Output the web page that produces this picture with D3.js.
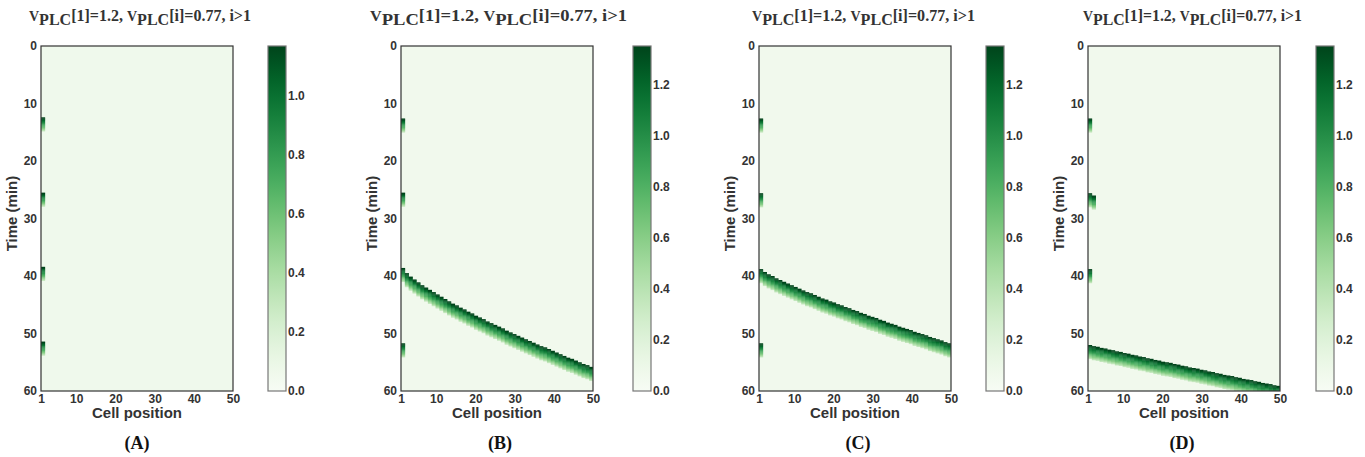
<!DOCTYPE html>
<html>
<head>
<meta charset="utf-8">
<script src="https://cdn.jsdelivr.net/npm/d3@7"></script>
<style>
  html, body { margin: 0; padding: 0; background: #fff; }
  svg { display: block; }
  .tick text { font-family: "Liberation Sans", Arial, sans-serif; font-weight: bold; font-size: 12px; fill: #333; }
</style>
</head>
<body>
<svg id="chart" width="1365" height="457"></svg>
<script>
// ---- data -------------------------------------------------------------
const panelLabels = ["(A)", "(B)", "(C)", "(D)"];
const timeTicks = [0, 10, 20, 30, 40, 50, 60];
const cellTicks = [1, 10, 20, 30, 40, 50];
const colorbarTicks = [0, 0.2, 0.4, 0.6, 0.8, 1.0, 1.2];
const colorMax = [1.17, 1.35, 1.35, 1.35];
const restLevel = 0.06;
const nCells = 50;

// Ca2+ transient shape after onset, sampled every 0.2 min (fraction of peak)
const profileStep = 0.2;
const spikeProfile = [1.0, 0.95, 0.88, 0.82, 0.76, 0.70, 0.64, 0.58, 0.51, 0.44, 0.36, 0.27];

// isolated oscillations in cell 1 (onset, min)
const cell1SpikesA = [12.4, 25.5, 38.4, 51.4];
const cell1SpikesB = [12.6, 25.5, 51.7];
const cell1SpikesC = [12.6, 25.6, 51.7];
const cell1SpikesD = [12.6, 25.6, 38.8];
const cell2SpikesD = [26.0];

// onset of the propagating wave in cells 1..50 (min)
const waveOnsetB = [38.6,39.5,40.1,40.6,41.1,41.6,42.0,42.4,42.8,43.2,43.6,44.0,44.4,44.8,45.1,45.5,45.8,46.2,46.5,46.9,47.2,47.5,47.9,48.2,48.5,48.8,49.1,49.5,49.8,50.1,50.4,50.7,51.0,51.3,51.6,51.9,52.2,52.4,52.7,53.0,53.3,53.6,53.9,54.2,54.4,54.7,55.0,55.3,55.5,55.8];
const waveOnsetC = [38.8,39.3,39.7,40.0,40.4,40.7,41.0,41.3,41.6,41.9,42.2,42.5,42.8,43.0,43.3,43.6,43.9,44.1,44.4,44.6,44.9,45.1,45.4,45.6,45.9,46.1,46.4,46.6,46.9,47.1,47.3,47.6,47.8,48.1,48.3,48.5,48.8,49.0,49.2,49.4,49.7,49.9,50.1,50.3,50.6,50.8,51.0,51.2,51.5,51.7];
const waveOnsetD = [52.0,52.2,52.3,52.5,52.6,52.8,52.9,53.1,53.2,53.4,53.5,53.7,53.8,54.0,54.1,54.3,54.4,54.6,54.7,54.9,55.0,55.1,55.3,55.4,55.6,55.7,55.9,56.0,56.1,56.3,56.4,56.6,56.7,56.9,57.0,57.2,57.3,57.4,57.6,57.7,57.9,58.0,58.1,58.3,58.4,58.6,58.7,58.8,59.0,59.1];

// ---- layout -----------------------------------------------------------
const plotTop = 46, plotH = 345, plotW = 192;
const plotLeft = [41, 401, 759, 1088];
const barLeft = [268, 633, 986, 1316];
const barW = 18;
const titleX = [29, 370, 752, 1083];
const titleW = [222, 257, 223, 219];
const labelX = [137, 500, 858, 1182];

function eventsFor(p) {
  const ev = [];
  const add = (cell, list) => list.forEach(t => ev.push({ cell, onset: t }));
  if (p === 0) add(1, cell1SpikesA);
  if (p === 1) { add(1, cell1SpikesB); waveOnsetB.forEach((t, i) => ev.push({ cell: i + 1, onset: t })); }
  if (p === 2) { add(1, cell1SpikesC); waveOnsetC.forEach((t, i) => ev.push({ cell: i + 1, onset: t })); }
  if (p === 3) { add(1, cell1SpikesD); add(2, cell2SpikesD); waveOnsetD.forEach((t, i) => ev.push({ cell: i + 1, onset: t })); }
  return ev;
}

const svg = d3.select("#chart");
const defs = svg.append("defs");

panelLabels.forEach((lab, p) => {
  const x0 = plotLeft[p];
  const x = d3.scaleLinear().domain([1, nCells]).range([x0, x0 + plotW]);
  const y = d3.scaleLinear().domain([0, 60]).range([plotTop, plotTop + plotH]);
  const color = d3.scaleSequential(d3.interpolateGreens).domain([0, colorMax[p]]);
  const g = svg.append("g");

  // clip for the heat map
  defs.append("clipPath").attr("id", "clip" + p)
    .append("rect").attr("x", x0).attr("y", plotTop).attr("width", plotW).attr("height", plotH);

  const heat = g.append("g").attr("clip-path", `url(#clip${p})`);
  heat.append("rect")
    .attr("x", x0).attr("y", plotTop).attr("width", plotW).attr("height", plotH)
    .attr("fill", color(restLevel));

  // one rectangle per cell and time sample of each transient
  const cellW = (nCells - 1) / nCells;
  const samples = [];
  eventsFor(p).forEach(e => spikeProfile.forEach((f, k) => {
    samples.push({ cell: e.cell, t: e.onset + k * profileStep, v: f * colorMax[p] });
  }));
  samples.sort((a, b) => a.v - b.v);
  heat.selectAll("rect.s").data(samples).join("rect")
    .attr("class", "s")
    .attr("x", d => x(1 + (d.cell - 1) * cellW))
    .attr("width", d => x(1 + d.cell * cellW) - x(1 + (d.cell - 1) * cellW) + 0.3)
    .attr("y", d => y(d.t))
    .attr("height", y(profileStep) - y(0) + 0.3)
    .attr("fill", d => color(d.v));

  // frame
  g.append("rect")
    .attr("x", x0).attr("y", plotTop).attr("width", plotW).attr("height", plotH)
    .attr("fill", "none").attr("stroke", "#333").attr("stroke-width", 1.2);

  // axes
  const ya = g.append("g").attr("transform", `translate(${x0},0)`)
    .call(d3.axisLeft(y).tickValues(timeTicks).tickSize(0).tickPadding(4).tickFormat(d3.format("d")));
  ya.select(".domain").remove();
  const xa = g.append("g").attr("transform", `translate(0,${plotTop + plotH})`)
    .call(d3.axisBottom(x).tickValues(cellTicks).tickSize(0).tickPadding(3).tickFormat(d3.format("d")));
  xa.select(".domain").remove();

  g.append("text")
    .attr("transform", `translate(${x0 - 24},${plotTop + plotH / 2 - 5}) rotate(-90)`)
    .attr("text-anchor", "middle")
    .attr("font-family", "Liberation Sans, Arial, sans-serif")
    .attr("font-weight", "bold").attr("font-size", 15).attr("fill", "#333")
    .text("Time (min)");
  g.append("text")
    .attr("x", x0 + plotW / 2).attr("y", 418)
    .attr("text-anchor", "middle")
    .attr("font-family", "Liberation Sans, Arial, sans-serif")
    .attr("font-weight", "bold").attr("font-size", 15).attr("fill", "#333")
    .text("Cell position");

  // title
  const title = g.append("text")
    .attr("x", titleX[p]).attr("y", 21)
    .attr("font-family", "Liberation Serif, Times New Roman, serif")
    .attr("font-weight", "bold").attr("font-size", 16).attr("fill", "#333")
    .attr("textLength", titleW[p]).attr("lengthAdjust", "spacingAndGlyphs");
  title.append("tspan").attr("font-size", 14).text("V");
  title.append("tspan").attr("dy", 4).text("PLC");
  title.append("tspan").attr("dy", -4).text("[1]=1.2, ");
  title.append("tspan").attr("font-size", 14).text("V");
  title.append("tspan").attr("dy", 4).text("PLC");
  title.append("tspan").attr("dy", -4).text("[i]=0.77, i>1");

  // panel label
  g.append("text")
    .attr("x", labelX[p]).attr("y", 449)
    .attr("text-anchor", "middle")
    .attr("font-family", "Liberation Serif, Times New Roman, serif")
    .attr("font-weight", "bold").attr("font-size", 18).attr("fill", "#111")
    .text(lab);

  // colour bar
  const gid = "grad" + p;
  const grad = defs.append("linearGradient").attr("id", gid)
    .attr("x1", 0).attr("y1", 1).attr("x2", 0).attr("y2", 0);
  d3.range(0, 1.0001, 0.05).forEach(f => {
    grad.append("stop").attr("offset", f).attr("stop-color", d3.interpolateGreens(f));
  });
  const cb = d3.scaleLinear().domain([0, colorMax[p]]).range([plotTop + plotH, plotTop]);
  g.append("rect")
    .attr("x", barLeft[p]).attr("y", plotTop).attr("width", barW).attr("height", plotH)
    .attr("fill", `url(#${gid})`).attr("stroke", "#777").attr("stroke-width", 1.2);
  const ca = g.append("g").attr("transform", `translate(${barLeft[p] + barW},0)`)
    .call(d3.axisRight(cb).tickValues(colorbarTicks.filter(v => v <= colorMax[p]))
      .tickSize(0).tickPadding(2).tickFormat(d3.format(".1f")));
  ca.select(".domain").remove();
});
</script>
</body>
</html>
